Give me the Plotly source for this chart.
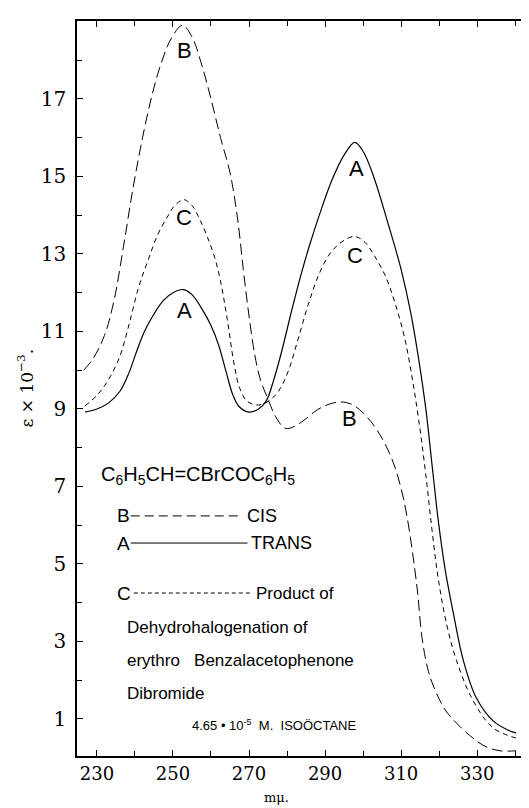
import plotly.graph_objects as go

# ---- data (wavelength in mμ, ε × 10^-3) ----
cis_x = [226.5, 229.0, 232.0, 234.5, 237.0, 239.5, 242.0, 244.5, 247.0, 249.5, 252.5, 255.0,
         257.5, 260.0, 262.5, 265.0, 267.0, 268.5, 270.0, 271.5, 273.0, 275.0, 277.0, 279.5,
         282.0, 285.0, 288.0, 291.0, 294.0, 297.0, 300.0, 303.0, 305.5, 308.0, 310.0, 311.5,
         313.0, 314.3, 315.5, 317.0, 318.5, 321.5, 324.5, 328.0, 332.0, 336.0, 340.2]
cis_y = [10.0, 10.3, 10.9, 11.8, 13.2, 14.7, 16.0, 17.1, 17.95, 18.55, 18.9, 18.6,
         17.9, 17.0, 16.0, 15.1, 13.9, 12.6, 11.4, 10.4, 9.75, 9.25, 8.8, 8.5,
         8.55, 8.75, 8.98, 9.12, 9.18, 9.12, 8.9, 8.55, 8.15, 7.6, 6.95, 6.25,
         5.3, 4.3, 3.1, 2.3, 1.85, 1.25, 0.9, 0.58, 0.3, 0.18, 0.18]

trans_x = [226.9, 230.0, 233.0, 236.0, 238.5, 240.5, 242.5, 245.0, 247.5, 250.0, 252.8, 255.0,
           257.5, 260.0, 262.0, 264.0, 265.8, 267.5, 270.0, 272.5, 274.5, 276.5, 278.5, 281.0,
           283.5, 286.0, 289.0, 292.0, 295.0, 297.8, 300.0, 302.9, 306.4, 309.9, 312.5, 314.6,
           316.5, 318.2, 319.8, 321.6, 323.8, 326.4, 329.8, 334.2, 338.0, 340.2]
trans_y = [8.92, 9.0, 9.15, 9.45, 9.95, 10.5, 11.0, 11.45, 11.8, 12.0, 12.08, 11.95,
           11.6, 11.15, 10.65, 9.95, 9.35, 9.05, 8.92, 9.0, 9.2, 9.75, 10.45, 11.45,
           12.4, 13.25, 14.15, 14.95, 15.55, 15.88, 15.65, 14.96, 13.84, 12.64, 11.5, 10.3,
           9.0, 7.5, 6.1, 4.85, 3.7, 2.5, 1.54, 0.95, 0.72, 0.64]

prod_x = [226.9, 230.0, 233.0, 236.0, 238.5, 241.0, 243.5, 246.0, 248.5, 250.5, 252.8, 255.0,
          257.0, 259.0, 261.0, 262.5, 264.3, 266.0, 267.5, 269.5, 272.5, 275.1, 277.7, 280.3,
          282.9, 285.6, 288.5, 291.6, 295.0, 297.8, 300.5, 303.0, 306.0, 308.5, 311.0, 313.0,
          314.8, 316.5, 318.1, 319.8, 322.0, 324.6, 329.0, 334.2, 340.2]
prod_y = [9.08, 9.35, 9.75, 10.35, 11.2, 12.15, 12.85, 13.5, 13.95, 14.25, 14.4, 14.25,
          13.9, 13.45, 12.9, 12.3, 11.3, 10.2, 9.55, 9.2, 9.1, 9.2, 9.45, 9.97,
          10.8, 11.7, 12.5, 13.05, 13.35, 13.45, 13.3, 12.95, 12.4, 11.7, 10.8, 9.75,
          8.6, 7.3, 5.9, 4.6, 3.43, 2.5, 1.46, 0.77, 0.51]

x_major = [230, 250, 270, 290, 310, 330]
y_major = [1, 3, 5, 7, 9, 11, 13, 15, 17]

# curve letter labels: (text, x, y)
curve_labels = [("B", 253.0, 18.25), ("C", 253.0, 13.93), ("A", 253.0, 11.55),
                ("A", 298.3, 15.2), ("C", 297.8, 12.97), ("B", 296.3, 8.75)]

LETTER = "Liberation Sans, Arial, sans-serif"
SERIF = "DejaVu Serif, serif"

fig = go.Figure()
fig.add_trace(go.Scatter(x=cis_x, y=cis_y, mode="lines",
                         line=dict(color="black", width=1, dash="11px,5px", shape="spline", smoothing=1.0)))
fig.add_trace(go.Scatter(x=trans_x, y=trans_y, mode="lines",
                         line=dict(color="black", width=1.2, shape="spline", smoothing=1.0)))
fig.add_trace(go.Scatter(x=prod_x, y=prod_y, mode="lines",
                         line=dict(color="black", width=1, dash="5px,4px", shape="spline", smoothing=1.0)))

ann = []
for t, x, y in curve_labels:
    ann.append(dict(x=x, y=y, text=t, showarrow=False, xref="x", yref="y",
                    xanchor="center", yanchor="middle",
                    font=dict(family=LETTER, size=22, color="black")))

def txt(text, x, y, size=17, anchor="left", fam=LETTER):
    ann.append(dict(x=x, y=y, text=text, showarrow=False, xref="x", yref="y",
                    xanchor=anchor, yanchor="middle",
                    font=dict(family=fam, size=size, color="black")))

txt("C<sub>6</sub>H<sub>5</sub>CH=CBrCOC<sub>6</sub>H<sub>5</sub>", 230.6, 7.27, size=20)
txt("B", 234.8, 6.24, size=19)
txt("CIS", 269.0, 6.24, size=18)
txt("A", 234.8, 5.54, size=19)
txt("TRANS", 270.0, 5.54, size=18)
txt("C", 234.8, 4.25, size=19)
txt("Product of", 271.2, 4.25)
txt("Dehydrohalogenation of", 237.3, 3.35)
txt("erythro&nbsp;&nbsp;&nbsp;Benzalacetophenone", 237.3, 2.5)
txt("Dibromide", 237.3, 1.67)
txt("4.65&nbsp;•&nbsp;10<sup>-5</sup>&nbsp;&nbsp;M.&nbsp;&nbsp;ISOÖCTANE", 254.4, 0.85, size=13)

# axis titles
ann.append(dict(x=-0.115, y=0.5, xref="paper", yref="paper", text="ε × 10<sup>−3</sup>.",
                textangle=-90, showarrow=False, xanchor="center", yanchor="middle",
                font=dict(family=SERIF, size=17, color="black")))
ann.append(dict(x=0.44, y=-0.068, xref="paper", yref="paper", text="mμ.",
                showarrow=False, xanchor="center", yanchor="bottom", borderpad=0,
                font=dict(family=SERIF, size=13, color="black")))

shapes = [
    dict(type="line", xref="x", yref="y", x0=238.9, x1=268.3, y0=6.24, y1=6.24,
         line=dict(color="black", width=1, dash="9px,5px")),
    dict(type="line", xref="x", yref="y", x0=238.9, x1=269.6, y0=5.54, y1=5.54,
         line=dict(color="black", width=1)),
    dict(type="line", xref="x", yref="y", x0=239.7, x1=270.8, y0=4.25, y1=4.25,
         line=dict(color="black", width=1, dash="4px,3px")),
]

fig.update_layout(
    width=529, height=808,
    margin=dict(l=69, r=5, t=13, b=60),
    paper_bgcolor="white", plot_bgcolor="white",
    showlegend=False,
    annotations=ann, shapes=shapes,
    xaxis=dict(range=[224.76, 343.9], tickvals=x_major, ticktext=[str(v) for v in x_major],
               ticks="inside", ticklen=6, tickcolor="black", showline=True, linecolor="black",
               linewidth=1.5, mirror="ticks", showgrid=False, zeroline=False,
               minor=dict(dtick=10, tick0=230, ticks="inside", ticklen=5, tickcolor="black", showgrid=False),
               tickfont=dict(family=SERIF, size=18, color="black"), ticklabelstandoff=1),
    yaxis=dict(range=[0.045, 19.01], tickvals=y_major, ticktext=[str(v) for v in y_major],
               ticks="inside", ticklen=6, tickcolor="black", showline=True, linecolor="black",
               linewidth=1.5, mirror="ticks", showgrid=False, zeroline=False,
               minor=dict(dtick=1, tick0=1, ticks="inside", ticklen=5, tickcolor="black", showgrid=False),
               tickfont=dict(family=SERIF, size=20, color="black"), ticklabelstandoff=5),
)

fig.write_html("out.html")
